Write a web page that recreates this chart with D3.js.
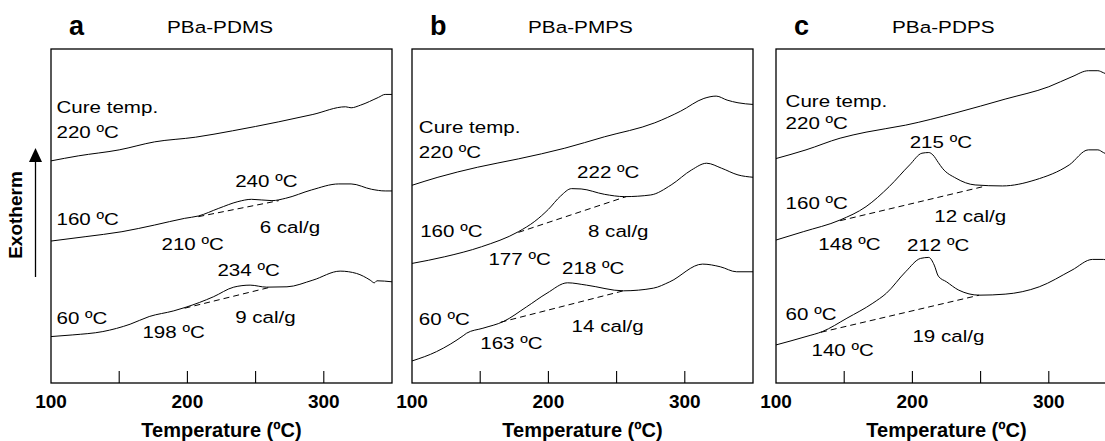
<!DOCTYPE html>
<html>
<head>
<meta charset="utf-8">
<script src="https://cdn.jsdelivr.net/npm/d3@7"></script>
<style>
  body { margin: 0; background: #fff; }
  text { font-family: "Liberation Sans", Arial, sans-serif; fill: #000; }
</style>
</head>
<body>
<svg id="chart"></svg>
<script>
// DSC traces: [temperature (ºC), heat flow (a.u., exotherm up)]
const pdms220 = [[100,66.5],[120,68.0],[150,69.8],[176,72.2],[206,73.6],[233,75.5],[267,78.2],[292,80.4],[316,82.7],[320,82.4],[327,83.2],[340,85.5],[345,86.4],[350,86.4]];
const pdms160 = [[100,42.5],[125,43.8],[152,45.3],[176,47.3],[198,49.3],[208,50.0],[223,52.3],[237,54.3],[247,55.0],[262,54.6],[272,55.3],[291,57.8],[311,59.6],[320,59.6],[335,58.0],[345,57.5],[350,57.5]];
const pdms60 = [[100,13.9],[116,14.4],[138,15.4],[158,17.6],[172,19.9],[190,21.6],[199,22.7],[219,25.8],[234,28.7],[246,29.3],[258,28.7],[273,28.8],[292,30.8],[312,33.5],[324,32.8],[334,30.8],[337,30.0],[339,30.6],[350,30.3]];

const pmps220 = [[100,59.2],[119,61.6],[148,64.6],[178,67.1],[212,70.3],[241,73.7],[278,77.9],[297,81.4],[314,85.2],[323,85.9],[331,84.7],[339,83.9],[350,83.4]];
const pmps160 = [[100,35.8],[124,37.8],[151,40.8],[178,45.3],[190,48.4],[200,52.0],[209,56.0],[217,58.2],[224,58.1],[241,56.5],[256,55.8],[275,56.3],[290,59.3],[305,63.8],[316,65.8],[327,64.3],[339,62.3],[350,61.6]];
const pmps60 = [[100,6.6],[118,9.4],[138,14.3],[140,14.9],[152,16.4],[167,18.4],[184,22.8],[199,26.9],[214,30.0],[228,29.3],[255,27.6],[277,28.4],[289,30.3],[313,35.6],[326,34.8],[338,33.3],[350,33.3]];

const pdps220 = [[100,67.2],[122,69.8],[147,73.3],[166,75.1],[195,77.2],[232,80.9],[268,85.0],[300,88.7],[317,91.7],[329,93.5],[336,93.5],[340,92.9],[350,91.0]];
const pdps160 = [[100,42.8],[120,45.3],[147,48.8],[166,52.8],[183,58.8],[198,65.3],[207,68.8],[212,69.0],[215,68.3],[219,66.0],[222,64.3],[232,61.3],[246,59.3],[266,59.0],[290,60.8],[315,65.3],[329,69.8],[336,69.8],[340,69.0],[350,67.0]];
const pdps60 = [[100,11.4],[122,13.9],[134,15.4],[152,19.4],[171,23.9],[181,26.9],[195,33.3],[206,37.3],[212,37.6],[216,35.3],[219,32.0],[225,30.3],[234,27.8],[249,26.3],[268,26.6],[293,28.8],[317,33.8],[332,37.0],[340,37.0],[350,35.5]];

// dashed baselines used for the cure heat
const pdmsBase = [[[208,49.8],[267,54.6]], [[198,22.4],[261,28.7]]];
const pmpsBase = [[[178,45.1],[257,55.8]], [[165,18.2],[255,27.6]]];
const pdpsBase = [[[147,48.6],[254,59.0]], [[133,15.2],[249,26.3]]];

// annotations: [text, temperature, heat flow]
const pdmsNotes = [["Cure temp.",104,80.7],["220 ºC",104,73.4],["240 ºC",235,58.8],["160 ºC",104,47.3],["210 ºC",181,39.8],["6 cal/g",253,44.9],["234 ºC",222,32.0],["60 ºC",104,17.7],["198 ºC",167,13.5],["9 cal/g",235,18.1]];
const pmpsNotes = [["Cure temp.",105,74.9],["220 ºC",105,67.3],["222 ºC",221,61.3],["160 ºC",106,43.6],["8 cal/g",229,43.8],["177 ºC",156,35.3],["218 ºC",210,32.6],["60 ºC",105,17.4],["163 ºC",150,10.1],["14 cal/g",217,15.4]];
const pdpsNotes = [["Cure temp.",107,82.7],["220 ºC",107,76.0],["215 ºC",198,70.4],["160 ºC",107,52.0],["12 cal/g",216,48.3],["148 ºC",131,39.8],["212 ºC",196,39.6],["60 ºC",107,18.9],["19 cal/g",200,12.4],["140 ºC",126,8.1]];

const panelLetters = ["a", "b", "c"];
const panelNames = ["PBa-PDMS", "PBa-PMPS", "PBa-PDPS"];
const xTicks = [150, 200, 250, 300];
const xTickLabels = [100, 200, 300];
const xTitle = "Temperature (ºC)";
const yTitle = "Exotherm";

const panels = [
  {curves: [pdms220, pdms160, pdms60], bases: pdmsBase, notes: pdmsNotes},
  {curves: [pmps220, pmps160, pmps60], bases: pmpsBase, notes: pmpsNotes},
  {curves: [pdps220, pdps160, pdps60], bases: pdpsBase, notes: pdpsNotes}
];

const width = 1105, height = 441;
const plotTop = 49, plotBottom = 383, panelWidth = 341;
const panelLeft = [51, 412, 776];

const svg = d3.select("#chart").attr("width", width).attr("height", height);

const y = d3.scaleLinear().domain([0, 100]).range([plotBottom, plotTop]);

panels.forEach(function(p, i) {
  const left = panelLeft[i];
  const x = d3.scaleLinear().domain([100, 350]).range([left, left + panelWidth]);
  const g = svg.append("g");

  g.append("clipPath").attr("id", "clip" + i)
    .append("rect").attr("x", left).attr("y", plotTop)
    .attr("width", panelWidth).attr("height", plotBottom - plotTop);

  // frame
  g.append("rect")
    .attr("x", left).attr("y", plotTop)
    .attr("width", panelWidth).attr("height", plotBottom - plotTop)
    .style("fill", "none").style("stroke", "#000").style("stroke-width", 1.3);

  // inward ticks on the bottom axis
  g.selectAll(".tick").data(xTicks).enter().append("line")
    .attr("x1", d => x(d)).attr("x2", d => x(d))
    .attr("y1", plotBottom).attr("y2", plotBottom - 12)
    .style("stroke", "#000").style("stroke-width", 1.1);

  g.selectAll(".ticklabel").data(xTickLabels).enter().append("text")
    .attr("x", d => x(d)).attr("y", 408)
    .attr("text-anchor", "middle")
    .style("font-size", "19px").style("font-weight", "bold")
    .text(d => d);

  g.append("text")
    .attr("x", left + panelWidth / 2).attr("y", 437)
    .attr("text-anchor", "middle")
    .style("font-size", "20px").style("font-weight", "bold")
    .text(xTitle);

  // panel letter and name
  g.append("text")
    .attr("x", left + 18).attr("y", 35)
    .style("font-size", "27px").style("font-weight", "bold")
    .text(panelLetters[i]);
  g.append("text")
    .attr("transform", "translate(" + (left + 116) + ",33) scale(1.22,1)")
    .style("font-size", "17px")
    .text(panelNames[i]);

  const line = d3.line()
    .x(d => x(d[0])).y(d => y(d[1]))
    .curve(d3.curveMonotoneX);

  const plot = g.append("g").attr("clip-path", "url(#clip" + i + ")");

  plot.selectAll(".curve").data(p.curves).enter().append("path")
    .attr("d", line)
    .style("fill", "none").style("stroke", "#000").style("stroke-width", 1);

  plot.selectAll(".base").data(p.bases).enter().append("path")
    .attr("d", d3.line().x(d => x(d[0])).y(d => y(d[1])))
    .style("fill", "none").style("stroke", "#000").style("stroke-width", 1)
    .style("stroke-dasharray", "6,4");

  g.selectAll(".note").data(p.notes).enter().append("text")
    .attr("transform", d => "translate(" + x(d[1]) + "," + y(d[2]) + ") scale(1.21,1)")
    .style("font-size", "17px")
    .text(d => d[0]);
});

// exotherm arrow
svg.append("line")
  .attr("x1", 35.5).attr("x2", 35.5)
  .attr("y1", 277).attr("y2", 160)
  .style("stroke", "#000").style("stroke-width", 1.3);
svg.append("path")
  .attr("d", "M29,162 L35.5,148 L42,162 Z")
  .style("fill", "#000");

svg.append("text")
  .attr("transform", "translate(22,215) rotate(-90)")
  .attr("text-anchor", "middle")
  .style("font-size", "19px").style("font-weight", "bold")
  .text(yTitle);
</script>
</body>
</html>
